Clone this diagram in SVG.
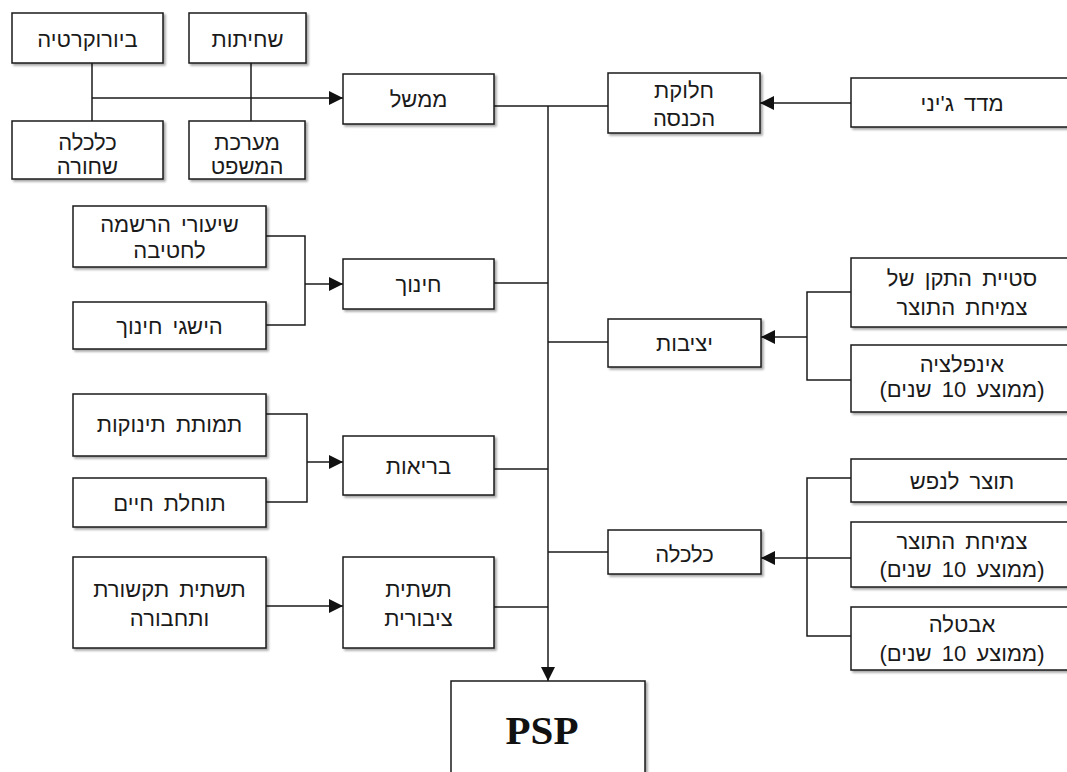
<svg xmlns="http://www.w3.org/2000/svg" width="1067" height="772" viewBox="0 0 1067 772">
  <style>
    .box { fill: #ffffff; stroke: #1a1a1a; stroke-width: 1.5; filter: url(#shadow); }
    .lbl { font-family: "Liberation Sans", "DejaVu Sans", Arial, sans-serif; font-size: 22px; fill: #1a1a1a; text-anchor: middle; direction: rtl; word-spacing: 4px; }
    .psp { font-family: "Liberation Serif", "Times New Roman", serif; font-size: 41px; font-weight: bold; fill: #111111; text-anchor: middle; }
    .wire { fill: none; stroke: #1a1a1a; stroke-width: 1.5; }
    .arrow { marker-end: url(#head); }
  </style>
  <defs>
    <filter id="shadow" x="-10%" y="-10%" width="130%" height="140%">
      <feDropShadow dx="2" dy="2" stdDeviation="1" flood-color="#000000" flood-opacity="0.35"/>
    </filter>
    <marker id="head" markerUnits="userSpaceOnUse" markerWidth="14" markerHeight="14" viewBox="0 0 14 14" refX="14" refY="7" orient="auto">
      <path d="M0,0 L14,7 L0,14 Z" fill="#111111"/>
    </marker>
  </defs>

  <rect width="1067" height="772" fill="#ffffff"/>

  <!-- connectors -->
  <g id="connectors">
    <!-- government inputs -->
    <path class="wire" d="M92,63 V121"/>
    <path class="wire" d="M251,63 V121"/>
    <path class="wire arrow" d="M92,98 H343"/>
    <!-- government / income distribution to the trunk -->
    <path class="wire" d="M494,106 H608"/>
    <path class="wire arrow" d="M548,106 V681"/>
    <path class="wire arrow" d="M851,103 H760"/>
    <!-- education -->
    <path class="wire" d="M266,236 H305 V325 H266"/>
    <path class="wire arrow" d="M305,284 H343"/>
    <path class="wire" d="M494,283 H548"/>
    <!-- stability -->
    <path class="wire" d="M851,292 H807 V380 H851"/>
    <path class="wire arrow" d="M807,337 H761"/>
    <path class="wire" d="M548,342 H608"/>
    <!-- health -->
    <path class="wire" d="M266,414 H307 V502 H266"/>
    <path class="wire arrow" d="M307,462 H343"/>
    <path class="wire" d="M494,469 H548"/>
    <!-- infrastructure -->
    <path class="wire arrow" d="M266,606 H343"/>
    <path class="wire" d="M494,607 H548"/>
    <!-- economy -->
    <path class="wire" d="M851,478 H807 V636 H851"/>
    <path class="wire arrow" d="M851,558 H761"/>
    <path class="wire" d="M548,552 H608"/>
  </g>

  <!-- government block -->
  <g id="n-bureaucracy">
    <rect class="box" x="12" y="13" width="151" height="50"/>
    <text class="lbl" x="87.5" y="47">ביורוקרטיה</text>
  </g>
  <g id="n-corruption">
    <rect class="box" x="189" y="13" width="117" height="50"/>
    <text class="lbl" x="247.5" y="47">שחיתות</text>
  </g>
  <g id="n-black-economy">
    <rect class="box" x="12" y="121" width="151" height="58"/>
    <text class="lbl" x="87.5" y="150">כלכלה</text>
    <text class="lbl" x="87.5" y="174">שחורה</text>
  </g>
  <g id="n-legal-system">
    <rect class="box" x="189" y="121" width="116" height="58"/>
    <text class="lbl" x="247" y="150">מערכת</text>
    <text class="lbl" x="247" y="174">המשפט</text>
  </g>
  <g id="n-government">
    <rect class="box" x="343" y="74" width="151" height="50"/>
    <text class="lbl" x="418.5" y="107">ממשל</text>
  </g>

  <!-- income distribution -->
  <g id="n-income-distribution">
    <rect class="box" x="608" y="73" width="152" height="60"/>
    <text class="lbl" x="684" y="98">חלוקת</text>
    <text class="lbl" x="684" y="126">הכנסה</text>
  </g>
  <g id="n-gini">
    <rect class="box" x="851" y="78" width="224" height="49"/>
    <text class="lbl" x="962" y="111">מדד ג'יני</text>
  </g>

  <!-- education -->
  <g id="n-enrollment">
    <rect class="box" x="73" y="206" width="193" height="61"/>
    <text class="lbl" x="169.5" y="232">שיעורי הרשמה</text>
    <text class="lbl" x="169.5" y="258">לחטיבה</text>
  </g>
  <g id="n-achievements">
    <rect class="box" x="73" y="302" width="193" height="47"/>
    <text class="lbl" x="169.5" y="334">הישגי חינוך</text>
  </g>
  <g id="n-education">
    <rect class="box" x="343" y="259" width="151" height="50"/>
    <text class="lbl" x="418.5" y="292">חינוך</text>
  </g>

  <!-- stability -->
  <g id="n-growth-stdev">
    <rect class="box" x="851" y="258" width="224" height="69"/>
    <text class="lbl" x="962" y="286">סטיית התקן של</text>
    <text class="lbl" x="962" y="315">צמיחת התוצר</text>
  </g>
  <g id="n-inflation">
    <rect class="box" x="851" y="345" width="224" height="67"/>
    <text class="lbl" x="962" y="372">אינפלציה</text>
    <text class="lbl" x="962" y="397">(ממוצע 10 שנים)</text>
  </g>
  <g id="n-stability">
    <rect class="box" x="608" y="319" width="153" height="48"/>
    <text class="lbl" x="684.5" y="351">יציבות</text>
  </g>

  <!-- health -->
  <g id="n-infant-mortality">
    <rect class="box" x="73" y="394" width="193" height="62"/>
    <text class="lbl" x="169.5" y="432">תמותת תינוקות</text>
  </g>
  <g id="n-life-expectancy">
    <rect class="box" x="73" y="478" width="193" height="49"/>
    <text class="lbl" x="169.5" y="511">תוחלת חיים</text>
  </g>
  <g id="n-health">
    <rect class="box" x="343" y="436" width="151" height="59"/>
    <text class="lbl" x="418.5" y="474">בריאות</text>
  </g>

  <!-- infrastructure -->
  <g id="n-communication">
    <rect class="box" x="73" y="557" width="193" height="91"/>
    <text class="lbl" x="169.5" y="597">תשתית תקשורת</text>
    <text class="lbl" x="169.5" y="626">ותחבורה</text>
  </g>
  <g id="n-public-infrastructure">
    <rect class="box" x="343" y="557" width="151" height="91"/>
    <text class="lbl" x="418.5" y="597">תשתית</text>
    <text class="lbl" x="418.5" y="626">ציבורית</text>
  </g>

  <!-- economy -->
  <g id="n-gdp-per-capita">
    <rect class="box" x="851" y="459" width="224" height="43"/>
    <text class="lbl" x="962" y="489">תוצר לנפש</text>
  </g>
  <g id="n-gdp-growth">
    <rect class="box" x="851" y="522" width="224" height="65"/>
    <text class="lbl" x="962" y="549">צמיחת התוצר</text>
    <text class="lbl" x="962" y="577">(ממוצע 10 שנים)</text>
  </g>
  <g id="n-unemployment">
    <rect class="box" x="851" y="607" width="224" height="63"/>
    <text class="lbl" x="962" y="632">אבטלה</text>
    <text class="lbl" x="962" y="661">(ממוצע 10 שנים)</text>
  </g>
  <g id="n-economy">
    <rect class="box" x="608" y="530" width="153" height="44"/>
    <text class="lbl" x="684.5" y="562">כלכלה</text>
  </g>

  <!-- outcome -->
  <g id="n-psp">
    <rect class="box" x="451" y="681" width="194" height="110"/>
    <text class="psp" x="542" y="744">PSP</text>
  </g>
</svg>
